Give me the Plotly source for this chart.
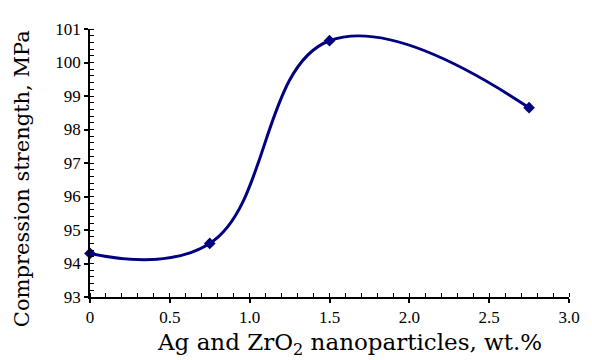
import plotly.graph_objects as go

x_vals = [0, 0.75, 1.5, 2.75]
y_vals = [94.3, 94.6, 100.65, 98.65]
x_ticks = [0, 0.5, 1.0, 1.5, 2.0, 2.5, 3.0]
x_tick_labels = ["0", "0.5", "1.0", "1.5", "2.0", "2.5", "3.0"]
y_ticks = [93, 94, 95, 96, 97, 98, 99, 100, 101]

# page offset (body margin) compensation
OFF = 8
W, H = 592 - OFF, 360 - OFF
L, R, T, B = 90 - OFF, 18, 28 - OFF, 63

fig = go.Figure()
fig.add_trace(go.Scatter(
    x=x_vals, y=y_vals, mode="lines+markers",
    line=dict(color="#000080", width=3, shape="spline", smoothing=1.2),
    marker=dict(symbol="diamond", size=9, color="#000080"),
    cliponaxis=False,
))

tick_font = dict(family="Liberation Serif", size=17, color="black")
fig.update_layout(
    width=W, height=H,
    margin=dict(l=L, r=R, t=T, b=B),
    paper_bgcolor="white", plot_bgcolor="white",
    showlegend=False,
    xaxis=dict(
        range=[0, 3.0], tickvals=x_ticks, ticktext=x_tick_labels,
        showgrid=False, zeroline=False,
        showline=True, linecolor="black", linewidth=1.5,
        ticks="outside", ticklen=4, tickwidth=1.5, tickcolor="black",
        tickfont=tick_font,
        minor=dict(dtick=0.1, ticks="inside", ticklen=4, tickwidth=1, tickcolor="black", showgrid=False),
    ),
    yaxis=dict(
        range=[93, 101], tickvals=y_ticks,
        showgrid=False, zeroline=False,
        showline=True, linecolor="black", linewidth=1.5,
        ticks="outside", ticklen=4, tickwidth=1.5, tickcolor="black",
        tickfont=tick_font,
        minor=dict(dtick=0.2, ticks="inside", ticklen=4, tickwidth=1, tickcolor="black", showgrid=False),
    ),
)

pw = W - L - R
ph = H - T - B

def to_paper(px, py):
    # px, py are page pixel positions
    return ((px - OFF) - L) / pw, (H - B - (py - OFF)) / ph

ax, ay = to_paper(352, 344)
bx, by = to_paper(22, 178)
fig.add_annotation(text="Ag and ZrO<sub>2</sub> nanoparticles, wt.%", x=ax, y=ay,
                   xref="paper", yref="paper", showarrow=False,
                   xanchor="center", yanchor="middle",
                   font=dict(family="DejaVu Serif", size=23, color="black"))
fig.add_annotation(text="Compression strength, MPa", x=bx, y=by, textangle=-90,
                   xref="paper", yref="paper", showarrow=False,
                   xanchor="center", yanchor="middle",
                   font=dict(family="DejaVu Serif", size=21, color="black"))

fig.write_html("out.html")
